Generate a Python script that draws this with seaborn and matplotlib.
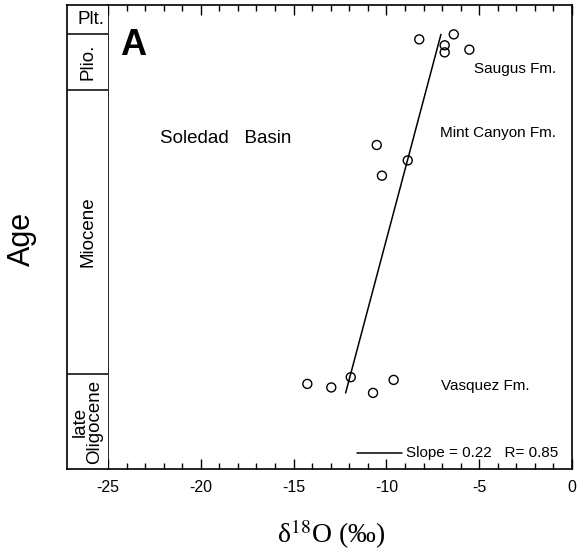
import matplotlib.pyplot as plt
import numpy as np
import pandas as pd
import seaborn as sns

# valeurs (delta 18O en permil, age en Ma)
saugus_d18o = [-8.23, -6.37, -6.86, -6.86, -5.53]
saugus_age = [2.14, 1.83, 2.51, 2.95, 2.78]
mint_d18o = [-10.52, -8.85, -10.24]
mint_age = [8.72, 9.68, 10.63]
vasquez_d18o = [-14.26, -12.97, -11.92, -10.72, -9.61]
vasquez_age = [23.60, 23.82, 23.18, 24.16, 23.35]

# droite de regression (pente affichee + droite tracee)
slope_label = 0.22
r_value = 0.85
line_slope = -0.23
line_intercept = -6.64
line_age = [1.83, 24.16]

# colonne stratigraphique
epochs = ["Plt.", "Plio.", "Miocene", "late\nOligocene"]
epoch_bounds = [0.0, 1.8, 5.3, 23.0, 28.9]

df = pd.DataFrame({
    "d18o": saugus_d18o + mint_d18o + vasquez_d18o,
    "age": saugus_age + mint_age + vasquez_age,
})

sns.set_style("white")
plt.rcParams["font.family"] = ["Liberation Sans", "DejaVu Sans"]
plt.rcParams["mathtext.fontset"] = "stix"
plt.rcParams["axes.unicode_minus"] = False
plt.rcParams["text.color"] = "black"
plt.rcParams["axes.labelcolor"] = "black"
plt.rcParams["xtick.color"] = "black"

fig = plt.figure(figsize=(5.77, 5.51), dpi=100)
ax = fig.add_axes([108 / 577, 1 - 469 / 551, 464 / 577, 464 / 551])
col = fig.add_axes([67 / 577, 1 - 469 / 551, 41 / 577, 464 / 551], sharey=ax)

sns.scatterplot(data=df, x="d18o", y="age", ax=ax, marker="o", s=42,
                facecolor="none", edgecolor="black", linewidth=1.0, zorder=3)

la = np.array(line_age)
ax.plot(line_intercept + line_slope * la, la, color="black", lw=1.1)

ax.set_xlim(-25, 0)
ax.set_ylim(epoch_bounds[-1], epoch_bounds[0])
ax.set_xticks(np.arange(-25, 1, 5))
ax.set_xticks(np.arange(-25, 1, 1), minor=True)
ax.set_yticks([])
ax.tick_params(axis="x", which="both", direction="in", top=True, bottom=True,
               labelsize=11.5, pad=8)
ax.tick_params(axis="x", which="major", length=7, width=1)
ax.tick_params(axis="x", which="minor", length=4, width=1)
for s in ax.spines.values():
    s.set_visible(True)
    s.set_color("black")
    s.set_linewidth(1.2)
ax.set_xlabel(r"δ$^{18}$O (‰)", fontsize=20, family="Liberation Serif")
ax.xaxis.set_label_coords(0.48, -0.105)
ax.set_ylabel("")

# annotations
ax.text(-24.35, 3.1, "A", fontsize=26, fontweight="bold", va="baseline")
ax.text(-22.2, 8.3, "Soledad   Basin", fontsize=13.5, va="center")
ax.text(-0.86, 4.0, "Saugus Fm.", fontsize=11, va="center", ha="right")
ax.text(-0.86, 8.0, "Mint Canyon Fm.", fontsize=11, va="center", ha="right")
ax.text(-7.06, 23.7, "Vasquez Fm.", fontsize=11, va="center")
ax.plot([-11.58, -9.16], [27.9, 27.9], color="black", lw=1.1)
ax.text(-8.94, 27.9, f"Slope = {slope_label:.2f}   R= {r_value:.2f}",
        fontsize=11, va="center")

# colonne des epoques
col.set_xlim(0, 1)
col.set_xticks([])
col.tick_params(axis="y", left=False, labelleft=False)
for name, s in col.spines.items():
    s.set_visible(name != "right")
    s.set_color("black")
    s.set_linewidth(1.2)
for b in epoch_bounds[1:-1]:
    col.axhline(b, color="black", lw=1.1)
for i, name in enumerate(epochs):
    mid = (epoch_bounds[i] + epoch_bounds[i + 1]) / 2
    if i == 0:
        col.text(0.58, mid, name, fontsize=13.5, ha="center", va="center")
    else:
        col.text(0.5, mid, name, fontsize=13.5, ha="center", va="center",
                 rotation=90, linespacing=0.85)

fig.text(22 / 577, 1 - 239 / 551, "Age", fontsize=22, rotation=90,
         ha="center", va="center")

fig.savefig("out.png", dpi=100)
